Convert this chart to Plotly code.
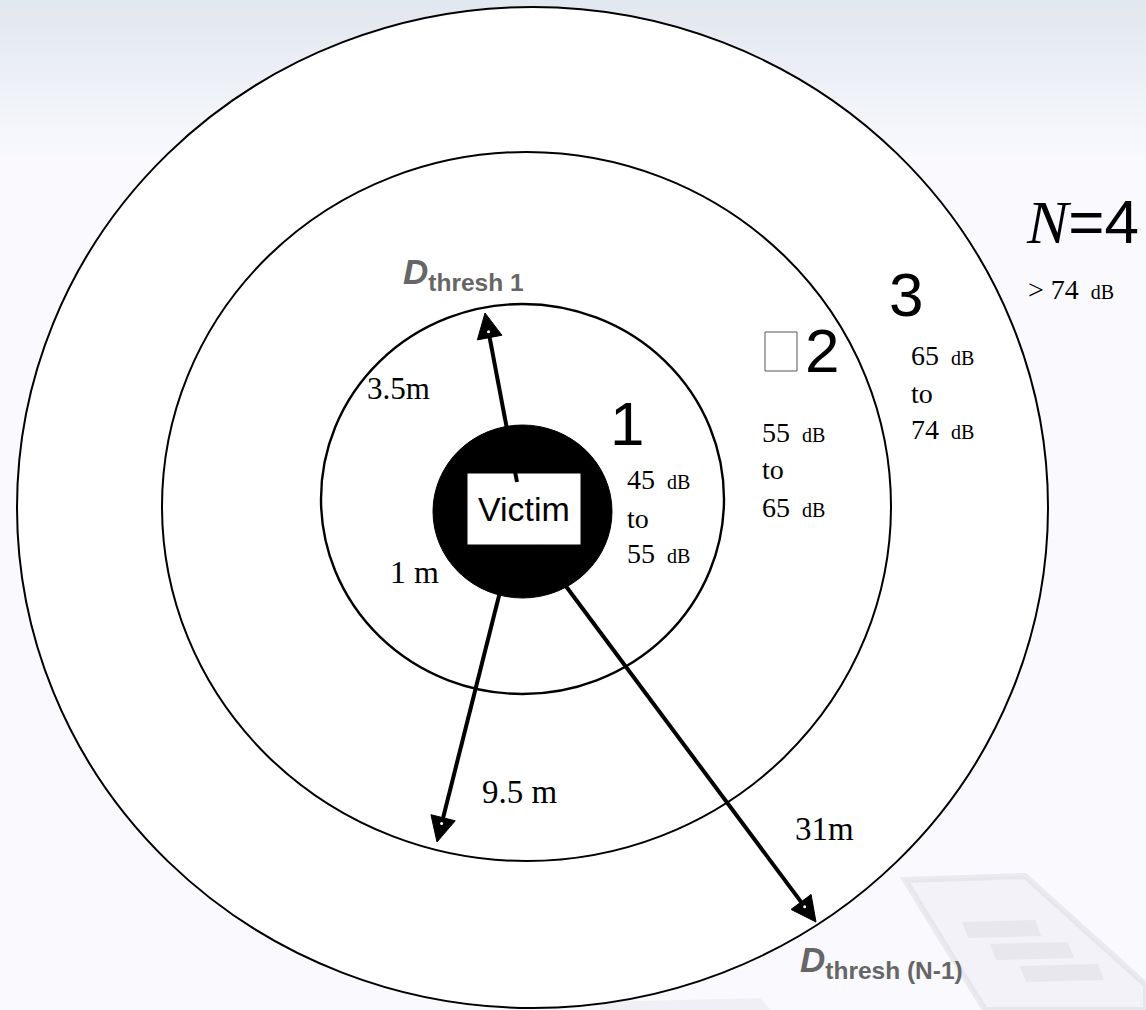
import numpy as np
import plotly.graph_objects as go

# ---------------- data ----------------
zone_numbers = ["1", "2", "3", "4"]
zone_db_from = [45, 55, 65, 74]
zone_db_to = [55, 65, 74, None]
threshold_distances = ["1 m", "3.5m", "9.5 m", "31m"]
threshold_names = ["thresh 1", "thresh (N-1)"]
centre_label = "Victim"

# ---------------- geometry (pixel coordinates, y downwards) ----------------
W, H = 1146, 1010
rings = [(17, 7, 1048, 1008), (162, 152, 891, 861), (321, 304, 724, 694)]
ring_widths = [2, 2, 2.4]
victim_disc = (433, 425, 612, 598)
victim_box = (467, 473, 581, 545)
arrow_start = [(517, 482), (511, 548), (536, 546)]
arrow_tip = [(485, 313), (437, 842), (816, 922)]

SERIF = "Liberation Serif"
SANS = "Liberation Sans"

fig = go.Figure()
shapes = []

# background: soft top gradient
top = np.array([226, 232, 239])
bot = np.array([249, 249, 254])
n = 18
for i in range(n):
    t = i / (n - 1)
    c = (top * (1 - t) + bot * t).astype(int)
    shapes.append(dict(type="rect", xref="x", yref="y", x0=0, x1=W,
                       y0=i * 9, y1=(i + 1) * 9 + 1, line_width=0,
                       fillcolor=f"rgb({c[0]},{c[1]},{c[2]})", layer="below"))
# faint watermark bottom right
shapes.append(dict(type="path", xref="x", yref="y",
                   path="M 905 880 L 1025 876 L 1146 985 L 1146 1010 L 985 1010 Z",
                   fillcolor="rgba(225,225,232,0.25)", line=dict(color="rgba(215,215,222,0.45)", width=6),
                   layer="below"))
for (x0, y0, x1) in [(962, 922, 1035), (990, 944, 1068), (1020, 966, 1098)]:
    shapes.append(dict(type="path", xref="x", yref="y",
                       path=f"M {x0} {y0} L {x1} {y0-2} L {x1+6} {y0+14} L {x0+6} {y0+16} Z",
                       fillcolor="rgba(215,215,220,0.4)", line_width=0, layer="below"))
shapes.append(dict(type="path", xref="x", yref="y",
                   path="M 600 1002 L 760 998 L 770 1010 L 600 1010 Z",
                   fillcolor="rgba(226,226,232,0.4)", line_width=0, layer="below"))

# rings
for (x0, y0, x1, y1), lw in zip(rings, ring_widths):
    shapes.append(dict(type="circle", xref="x", yref="y", x0=x0, y0=y0, x1=x1, y1=y1,
                       fillcolor="white", line=dict(color="black", width=lw), layer="below"))
# victim disc & box
x0, y0, x1, y1 = victim_disc
shapes.append(dict(type="circle", xref="x", yref="y", x0=x0, y0=y0, x1=x1, y1=y1,
                   fillcolor="black", line=dict(color="black", width=1), layer="below"))
x0, y0, x1, y1 = victim_box
shapes.append(dict(type="rect", xref="x", yref="y", x0=x0, y0=y0, x1=x1, y1=y1,
                   fillcolor="white", line=dict(color="black", width=1), layer="below"))
# missing-glyph box before the "2"
shapes.append(dict(type="rect", xref="x", yref="y", x0=765, y0=332, x1=797, y1=371,
                   fillcolor="white", line=dict(color="#555555", width=1), layer="above"))

# arrows
HEAD_L, HEAD_W = 25, 12.5
for s, t in zip(arrow_start, arrow_tip):
    s = np.array(s, float); t = np.array(t, float)
    d = (t - s) / np.linalg.norm(t - s)
    p = np.array([-d[1], d[0]])
    base = t - d * HEAD_L
    end = t - d * (HEAD_L - 4)
    fig.add_trace(go.Scatter(x=[s[0], end[0]], y=[s[1], end[1]], mode="lines",
                             line=dict(color="black", width=4), hoverinfo="skip",
                             showlegend=False))
    tri = np.array([t, base + p * HEAD_W, base - p * HEAD_W, t])
    fig.add_trace(go.Scatter(x=tri[:, 0], y=tri[:, 1], mode="lines", fill="toself",
                             fillcolor="black", line=dict(color="black", width=1),
                             hoverinfo="skip", showlegend=False))
    # small white dot near the arrow head (as in the reference)
    dot = t - d * 19
    fig.add_trace(go.Scatter(x=[dot[0]], y=[dot[1]], mode="markers",
                             marker=dict(color="white", size=3), hoverinfo="skip",
                             showlegend=False))

ann = []


def add(text, x, y, size, family=SERIF, color="black", xanchor="left"):
    ann.append(dict(text=text, x=x, y=y, xref="x", yref="y", showarrow=False,
                    xanchor=xanchor, yanchor="middle",
                    font=dict(family=family, size=size, color=color)))


def db(v):
    return f"{v} <span style='font-size:20px'> dB</span>"


# victim
add(centre_label, 524, 509, 34, SANS, xanchor="center")

# zone numbers
add(zone_numbers[0], 627, 423, 62, SANS, xanchor="center")
add(zone_numbers[1], 822, 350, 62, SANS, xanchor="center")
add(zone_numbers[2], 906, 294, 62, SANS, xanchor="center")
add(f"<span style='font-family:{SERIF}'><i>N</i></span>={zone_numbers[3]}", 1024, 221, 62, SANS)

# dB ranges
zone_pos = [(625, [479, 518, 553]), (760, [432, 469, 507]), (909, [355, 393, 429])]
for k, (x, ys) in enumerate(zone_pos):
    add(db(zone_db_from[k]), x, ys[0], 28)
    add("to", x, ys[1], 28)
    add(db(zone_db_to[k]), x, ys[2], 28)
add("&gt; " + db(zone_db_from[3]), 1026, 289, 28)

# distance labels
add(threshold_distances[0], 414, 572, 32, xanchor="center")
add(threshold_distances[1], 398, 388, 31, xanchor="center")
add(threshold_distances[2], 520, 792, 33, xanchor="center")
add(threshold_distances[3], 824, 829, 33, xanchor="center")

# threshold names
add(f"<b><i>D</i><sub>{threshold_names[0]}</sub></b>", 401, 274, 35, SANS, color="#666666")
add(f"<b><i>D</i><sub>{threshold_names[1]}</sub></b>", 798, 962, 35, SANS, color="#666666")

fig.update_layout(
    width=W, height=H, margin=dict(l=0, r=0, t=0, b=0),
    paper_bgcolor="rgb(249,249,254)", plot_bgcolor="rgba(0,0,0,0)",
    xaxis=dict(range=[0, W], visible=False, fixedrange=True),
    yaxis=dict(range=[H, 0], visible=False, fixedrange=True),
    shapes=shapes, annotations=ann, showlegend=False,
)
fig.write_html("out.html", config={"displayModeBar": False},
               post_script="document.body.style.margin='0';document.body.style.overflow='hidden';")
